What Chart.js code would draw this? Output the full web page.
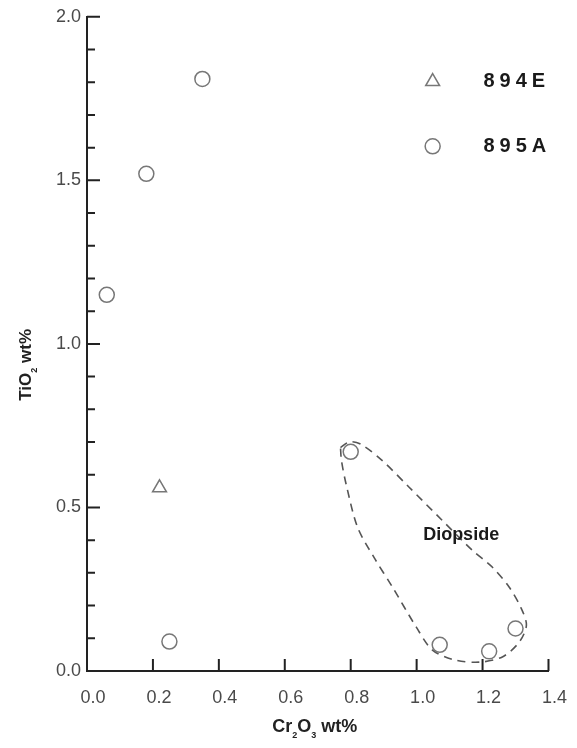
<!DOCTYPE html>
<html>
<head>
<meta charset="utf-8">
<script src="https://cdn.jsdelivr.net/npm/chart.js@4/dist/chart.umd.min.js"></script>
<style>
  html, body { margin: 0; padding: 0; background: #fff; }
  #wrap { width: 577px; height: 748px; position: relative; }
</style>
</head>
<body>
<div id="wrap"><canvas id="c"></canvas></div>
<script>
/* TiO2 vs Cr2O3 in clinopyroxene, Sites 894E / 895A */
const X_TICKS = [0, 0.2, 0.4, 0.6, 0.8, 1.0, 1.2, 1.4];
const Y_TICKS = [0, 0.5, 1.0, 1.5, 2.0];
const Y_MINOR = [0.1, 0.2, 0.3, 0.4, 0.6, 0.7, 0.8, 0.9, 1.1, 1.2, 1.3, 1.4, 1.6, 1.7, 1.8, 1.9];

const S894E_CR = [0.22];
const S894E_TI = [0.56];

const S895A_CR = [0.35, 0.18, 0.06, 0.25, 0.80, 1.07, 1.22, 1.30];
const S895A_TI = [1.81, 1.52, 1.15, 0.09, 0.67, 0.08, 0.06, 0.13];

// dashed "Diopside" envelope, traced clockwise from the top-left corner
const ENV_CR = [0.769, 0.797, 0.833, 0.896, 0.978, 1.078, 1.169, 1.230, 1.281, 1.317, 1.333,
                1.311, 1.260, 1.190, 1.114, 1.048, 0.999, 0.927, 0.872, 0.821, 0.787, 0.772, 0.769];
const ENV_TI = [0.683, 0.701, 0.692, 0.643, 0.561, 0.460, 0.369, 0.317, 0.256, 0.192, 0.140,
                0.088, 0.043, 0.027, 0.034, 0.064, 0.134, 0.256, 0.345, 0.439, 0.567, 0.643, 0.683];

const INK = '#222', MARK = '#777', TICKTXT = '#4a4a4a';
const FONT = '"Liberation Sans", Arial, sans-serif';

const pts = (xs, ys) => xs.map((x, i) => ({ x, y: ys[i] }));

// inward ticks, axis titles with subscripts, legend and the field label
const decor = {
  id: 'decor',
  afterDraw(c) {
    const { ctx, chartArea: a, scales: { x, y } } = c;
    ctx.save();
    ctx.strokeStyle = INK; ctx.lineWidth = 2;
    ctx.beginPath();
    X_TICKS.forEach(v => { const px = x.getPixelForValue(v); ctx.moveTo(px, a.bottom); ctx.lineTo(px, a.bottom - 12); });
    Y_TICKS.forEach(v => { const py = y.getPixelForValue(v); ctx.moveTo(a.left, py); ctx.lineTo(a.left + 13, py); });
    Y_MINOR.forEach(v => { const py = y.getPixelForValue(v); ctx.moveTo(a.left, py); ctx.lineTo(a.left + 8, py); });
    ctx.stroke();

    // pieces: [text, isSub]
    function rich(parts, size, subSize) {
      let w = 0;
      parts.forEach(p => { ctx.font = 'bold ' + (p[1] ? subSize : size) + 'px ' + FONT; w += ctx.measureText(p[0]).width; });
      let cx = -w / 2;
      ctx.textAlign = 'left'; ctx.textBaseline = 'alphabetic';
      parts.forEach(p => {
        ctx.font = 'bold ' + (p[1] ? subSize : size) + 'px ' + FONT;
        ctx.fillText(p[0], cx, p[1] ? 6 : 0);
        cx += ctx.measureText(p[0]).width;
      });
    }
    ctx.fillStyle = INK;
    ctx.save();
    ctx.translate((a.left + a.right) / 2 - 3, a.bottom + 61);
    rich([['Cr', 0], ['2', 1], ['O', 0], ['3', 1], [' wt%', 0]], 18, 9);
    ctx.restore();

    ctx.save();
    ctx.translate(31, a.top + a.height * 0.532);
    ctx.rotate(-Math.PI / 2);
    rich([['TiO', 0], ['2', 1], [' wt%', 0]], 17, 9);
    ctx.restore();

    // legend
    const lx = a.left + a.width * 0.749, tx = a.left + a.width * 0.859;
    const rows = [['894E', 'triangle', a.top + a.height * 0.099], ['895A', 'circle', a.top + a.height * 0.198]];
    rows.forEach(r => {
      ctx.strokeStyle = MARK; ctx.lineWidth = 1.5; ctx.fillStyle = 'rgba(0,0,0,0)';
      Chart.helpers.drawPoint(ctx, { pointStyle: r[1], radius: r[1] === 'triangle' ? 8 : 7.5, borderWidth: 1.5 }, lx, r[2]);
      ctx.fillStyle = '#1a1a1a';
      ctx.font = 'bold 20px ' + FONT;
      ctx.letterSpacing = '5px';
      ctx.textAlign = 'left'; ctx.textBaseline = 'middle';
      ctx.fillText(r[0], tx, r[2]);
      ctx.letterSpacing = '0px';
    });

    ctx.font = 'bold 18px ' + FONT;
    ctx.textAlign = 'center'; ctx.textBaseline = 'middle';
    ctx.fillText('Diopside', x.getPixelForValue(1.135), y.getPixelForValue(0.415));
    ctx.restore();
  }
};

new Chart(document.getElementById('c'), {
  type: 'scatter',
  data: {
    datasets: [
      { label: '894E', data: pts(S894E_CR, S894E_TI), pointStyle: 'triangle', pointRadius: 8,
        borderColor: MARK, backgroundColor: 'rgba(0,0,0,0)', borderWidth: 1.5 },
      { label: '895A', data: pts(S895A_CR, S895A_TI), pointStyle: 'circle', pointRadius: 7.5,
        borderColor: MARK, backgroundColor: 'rgba(0,0,0,0)', borderWidth: 1.5 },
      { label: 'Diopside', data: pts(ENV_CR, ENV_TI), showLine: true, pointRadius: 0, tension: 0.3,
        borderColor: '#555', borderWidth: 1.6, borderDash: [8, 6], fill: false }
    ]
  },
  options: {
    responsive: true, maintainAspectRatio: false, animation: false,
    layout: { padding: { top: 15, right: 28, left: 0, bottom: 0 } },
    plugins: { legend: { display: false }, tooltip: { enabled: false } },
    scales: {
      x: {
        type: 'linear', min: 0, max: 1.4,
        afterBuildTicks: s => { s.ticks = X_TICKS.map(v => ({ value: v })); },
        afterFit: s => { s.height = 77; },
        grid: { display: false, drawTicks: false },
        border: { display: true, color: INK, width: 2 },
        ticks: { color: TICKTXT, padding: 16, labelOffset: 6, maxRotation: 0, autoSkip: false,
                 font: { family: FONT, size: 18 }, callback: v => Number(v).toFixed(1) }
      },
      y: {
        type: 'linear', min: 0, max: 2.0,
        afterBuildTicks: s => { s.ticks = Y_TICKS.map(v => ({ value: v })); },
        afterFit: s => { s.width = 87; },
        grid: { display: false, drawTicks: false },
        border: { display: true, color: INK, width: 2 },
        ticks: { color: TICKTXT, padding: 6, autoSkip: false,
                 font: { family: FONT, size: 18 }, callback: v => Number(v).toFixed(1) }
      }
    }
  },
  plugins: [decor]
});
</script>
</body>
</html>
